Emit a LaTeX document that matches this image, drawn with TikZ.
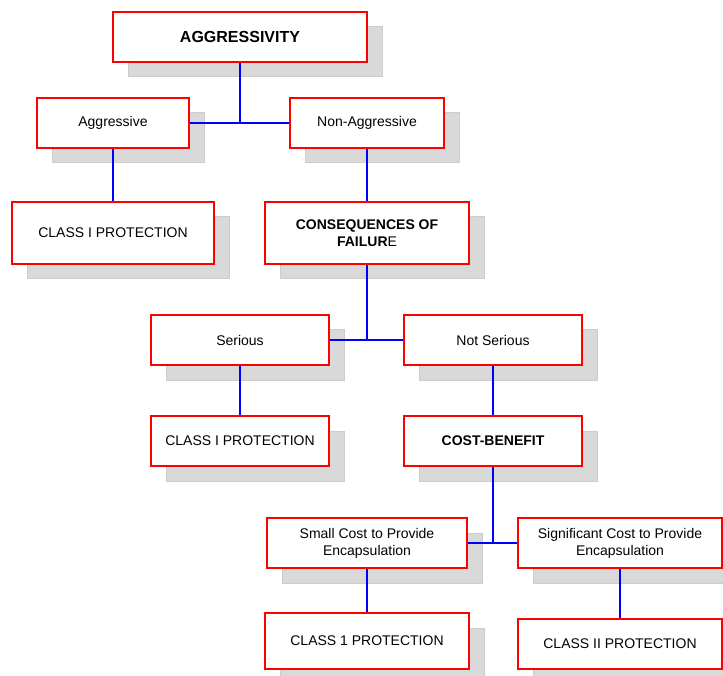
\documentclass[tikz,border=0pt]{standalone}
\usepackage{fontspec}
\setmainfont{Liberation Sans}
\usepackage{tikz}
\usetikzlibrary{shadows}

\definecolor{boxred}{HTML}{FF0000}
\definecolor{linkblue}{HTML}{0000FF}
\definecolor{shadowgray}{HTML}{D9D9D9}
\definecolor{shadowedge}{HTML}{CCCCCC}

\begin{document}
\begin{tikzpicture}[
    x=1pt, y=-1pt,
    font=\fontsize{14}{17}\selectfont,
    card/.style={rectangle, draw=boxred, line width=2pt, fill=white, align=center, inner sep=2pt, minimum height=50pt,
        drop shadow={shadow xshift=15pt, shadow yshift=-15pt, fill=shadowgray, draw=shadowedge, line width=1pt, opacity=1}},
    cardtall/.style={card, minimum height=62pt},
    link/.style={draw=linkblue, line width=2pt}
]
\useasboundingbox (0,0) rectangle (723,676);
\clip (0,0) rectangle (723,676);

\node[card, minimum width=254pt, font=\fontsize{16}{19}\selectfont\bfseries] (Aggressivity) at (240,37) {AGGRESSIVITY};

\node[card, minimum width=152pt] (Aggressive) at (113,123) {Aggressive};
\node[card, minimum width=154pt] (NonAggressive) at (367,123) {Non-Aggressive};

\node[cardtall, minimum width=202pt] (ClassA) at (113,233) {CLASS I PROTECTION};
\node[cardtall, minimum width=204pt] (Consequences) at (367,233) {\textbf{CONSEQUENCES OF}\\\textbf{FAILUR}E};

\node[card, minimum width=178pt] (Serious) at (240,340) {Serious};
\node[card, minimum width=178pt] (NotSerious) at (493,340) {Not Serious};

\node[card, minimum width=178pt] (ClassB) at (240,441) {CLASS I PROTECTION};
\node[card, minimum width=178pt] (CostBenefit) at (493,441) {\textbf{COST-BENEFIT}};

\node[card, minimum width=200pt] (SmallCost) at (367,543) {Small Cost to Provide\\Encapsulation};
\node[card, minimum width=204pt] (SignificantCost) at (620,543) {Significant Cost to Provide\\Encapsulation};

\node[card, minimum width=204pt, minimum height=56pt] (ClassC) at (367,641) {CLASS 1 PROTECTION};
\node[card, minimum width=204pt] (ClassD) at (620,644) {CLASS II PROTECTION};

% branches
\draw[link] (Aggressivity.south) -- (Aggressivity.south |- Aggressive.east);
\draw[link] (Aggressive.east) -- (NonAggressive.west);
\draw[link] (Aggressive.south) -- (ClassA.north);
\draw[link] (NonAggressive.south) -- (Consequences.north);
\draw[link] (Consequences.south) -- (Consequences.south |- Serious.east);
\draw[link] (Serious.east) -- (NotSerious.west);
\draw[link] (Serious.south) -- (ClassB.north);
\draw[link] (NotSerious.south) -- (CostBenefit.north);
\draw[link] (CostBenefit.south) -- (CostBenefit.south |- SmallCost.east);
\draw[link] (SmallCost.east) -- (SignificantCost.west);
\draw[link] (SmallCost.south) -- (ClassC.north);
\draw[link] (SignificantCost.south) -- (ClassD.north);
\end{tikzpicture}
\end{document}
